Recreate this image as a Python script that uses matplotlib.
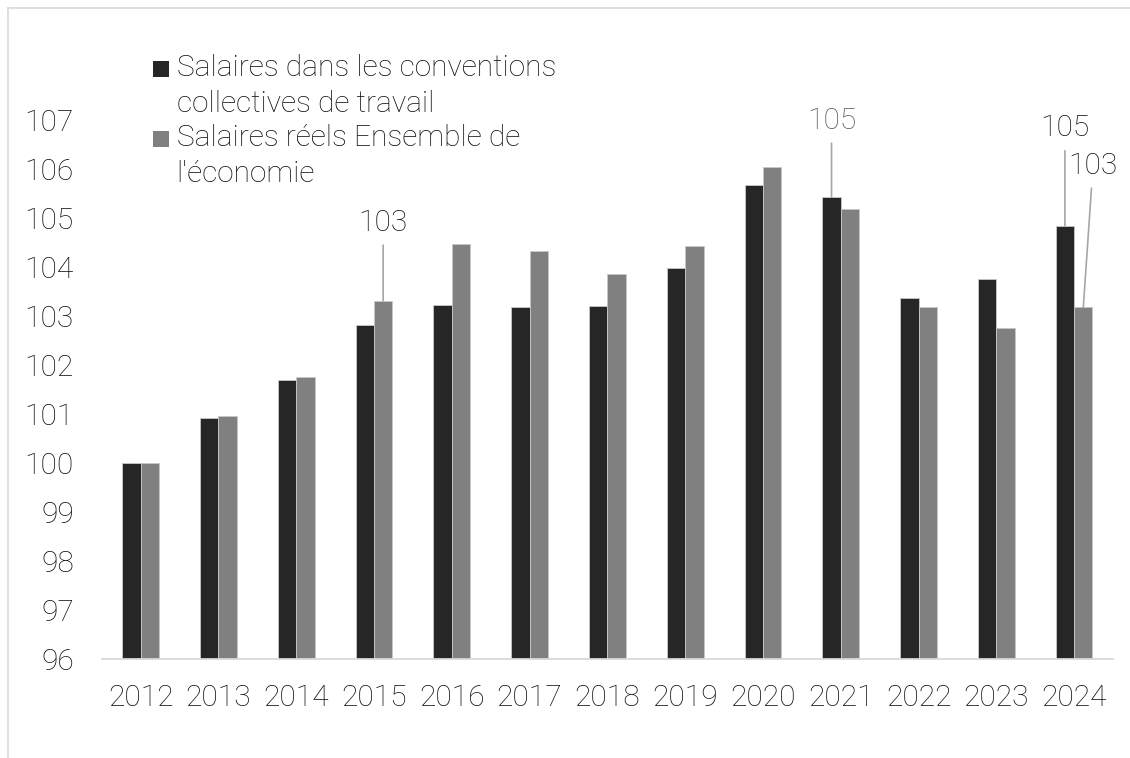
import numpy as np
import matplotlib
matplotlib.use("Agg")
import matplotlib.pyplot as plt
from matplotlib.patches import Rectangle
from matplotlib.lines import Line2D

plt.rcParams['font.family'] = ['Roboto', 'DejaVu Sans']
plt.rcParams['font.weight'] = 'light'

# Data
years = ['2012', '2013', '2014', '2015', '2016', '2017', '2018',
         '2019', '2020', '2021', '2022', '2023', '2024']
cct = [100.0, 100.92, 101.69, 102.82, 103.23, 103.20, 103.22,
       103.99, 105.67, 105.43, 103.37, 103.76, 104.85]
reels = [100.0, 100.96, 101.76, 103.32, 104.48, 104.34, 103.86,
         104.43, 106.05, 105.19, 103.19, 102.77, 103.18]
series_names = ['Salaires dans les conventions\ncollectives de travail',
                "Salaires réels Ensemble de\nl'économie"]
yticks = [96, 97, 98, 99, 100, 101, 102, 103, 104, 105, 106, 107]

c_dark = '#262626'
c_grey = '#808080'
txt = '#111111'

fig = plt.figure(figsize=(11.3, 7.58), dpi=100)
ax = fig.add_axes([101.7 / 1130, 1 - 659.3 / 758, (1113 - 101.7) / 1130, (659.3 - 120.3) / 758])

x = np.arange(len(years))
w = 0.236
ax.bar(x - w / 2, np.array(cct) - 96, w, bottom=96, color=c_dark,
       edgecolor='#c8c8c8', linewidth=0.6)
ax.bar(x + w / 2, np.array(reels) - 96, w, bottom=96, color=c_grey,
       edgecolor='#c8c8c8', linewidth=0.6)

ax.set_xlim(-0.5, len(years) - 0.5)
ax.set_ylim(96, 107)
ax.set_yticks(yticks)
ax.set_yticklabels([str(t) for t in yticks])
ax.set_xticks(x)
ax.set_xticklabels(years)
ax.tick_params(axis='both', length=0, labelsize=21.5, colors=txt)
ax.tick_params(axis='y', pad=20)
ax.tick_params(axis='x', pad=18)
for s in ['top', 'right', 'left']:
    ax.spines[s].set_visible(False)
ax.spines['bottom'].set_color('#d9d9d9')
ax.spines['bottom'].set_linewidth(1.3)

# value labels with leader lines: (year index, series, offset in points, colour)
labelled = [(3, 1, (0, 56), txt),
            (9, 0, (0, 55), '#595959'),
            (12, 0, (0, 70), txt),
            (12, 1, (7, 102), txt)]
for i, s, off, col in labelled:
    vals = cct if s == 0 else reels
    xpos = x[i] - w / 2 if s == 0 else x[i] + w / 2
    ax.annotate(f'{vals[i]:.0f}', xy=(xpos, vals[i]), xytext=off,
                textcoords='offset points', ha='center', va='center',
                fontsize=21.5, color=col, annotation_clip=False,
                arrowprops=dict(arrowstyle='-', color='#a6a6a6', lw=1.2,
                                shrinkA=4, shrinkB=0))

# legend drawn by hand so the swatch sits on the first line of each label
leg_y = [76.7, 146.7]
line_gap = 35
for k, (name, col) in enumerate(zip(series_names, [c_dark, c_grey])):
    by = leg_y[k]
    fig.add_artist(Rectangle((153 / 1130, 1 - by / 758), 16 / 1130, 16 / 758,
                             transform=fig.transFigure, color=col, lw=0))
    # multi-line text is placed by the baseline of its last line
    fig.text(176.7 / 1130, 1 - (by + line_gap) / 758, name, ha='left',
             va='baseline', fontsize=21.5, color=txt, linespacing=1.33)

# chart area frame (top and left edges)
fx, fy = 8 / 1130, 1 - 8 / 758
fig.add_artist(Line2D([fx, 1], [fy, fy], transform=fig.transFigure, color='#d9d9d9', lw=1.2))
fig.add_artist(Line2D([fx, fx], [0, fy], transform=fig.transFigure, color='#d9d9d9', lw=1.2))

fig.savefig('out.png', dpi=100, facecolor='white')
